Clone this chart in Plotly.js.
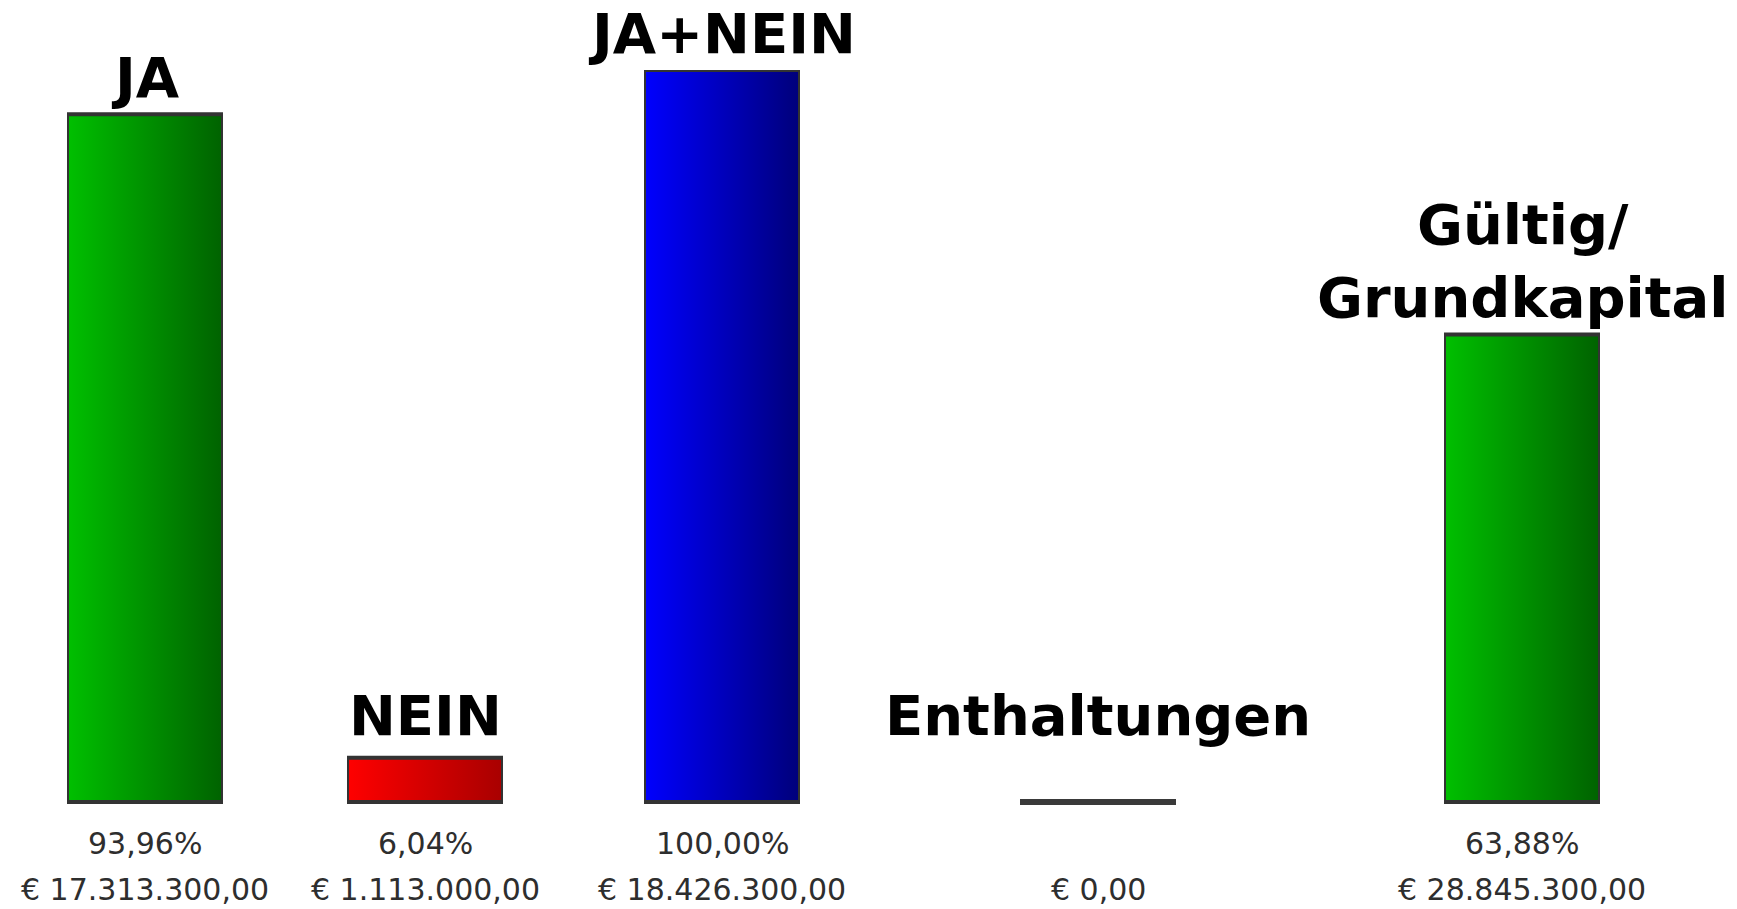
<!DOCTYPE html>
<html>
<head>
<meta charset="utf-8">
<script src="https://cdn.plot.ly/plotly-3.0.1.min.js"></script>
<style>
  html, body { margin: 0; padding: 0; background: #ffffff; }
  #chart { width: 1737px; height: 909px; }
</style>
</head>
<body>
<div id="chart"></div>
<script>
// ---- Data ----
const categories = ['JA', 'NEIN', 'JA+NEIN', 'Enthaltungen', 'Gültig/Grundkapital'];
const titleLabels = ['JA', 'NEIN', 'JA+NEIN', 'Enthaltungen', 'Gültig/<br>Grundkapital'];
const percentValues = [93.96, 6.04, 100.00, 0, 63.88];
const percentLabels = ['93,96%', '6,04%', '100,00%', '', '63,88%'];
const euroValues = [17313300, 1113000, 18426300, 0, 28845300];

// ---- Style / layout constants ----
const W = 1737, H = 909;
const columnCenters = [145, 425, 722, 1098, 1522];   // px, layout of the table columns
const barWidthPx = 156;
const labelFloor = 6.8;                               // minimum level for the title labels
const gradients = [
  ['#00c000', '#006200'],
  ['#ff0000', '#a80000'],
  ['#0000ff', '#00007a'],
  ['#555555', '#333333'],
  ['#00c000', '#006200']
];
const borderColor = '#333333';
const borderWidth = 4;

function formatEuro(v) {
  const parts = v.toFixed(2).split('.');
  const intPart = parts[0].replace(/\B(?=(\d{3})+(?!\d))/g, '.');
  return '€ ' + intPart + ',' + parts[1];
}
const euroLabels = euroValues.map(formatEuro);

const axisIds = categories.map((c, i) => i === 0 ? 'x' : 'x' + (i + 1));

const traces = categories.map((c, i) => ({
  type: 'bar',
  x: [c],
  y: [percentValues[i]],
  xaxis: axisIds[i],
  yaxis: 'y',
  marker: { color: gradients[i][0], line: { color: borderColor, width: borderWidth } },
  cliponaxis: false,
  hoverinfo: 'skip',
  showlegend: false
}));

const layout = {
  width: W,
  height: H,
  margin: { l: 0, r: 0, t: 70, b: 97, pad: 0 },
  paper_bgcolor: '#ffffff',
  plot_bgcolor: 'rgba(0,0,0,0)',
  bargap: 0,
  showlegend: false,
  yaxis: {
    range: [-1.367, 100],
    visible: false,
    showgrid: false,
    zeroline: false,
    fixedrange: true,
    anchor: 'x'
  },
  annotations: [],
  shapes: []
};

categories.forEach((c, i) => {
  const key = i === 0 ? 'xaxis' : 'xaxis' + (i + 1);
  const half = barWidthPx / 2;
  layout[key] = {
    domain: [(columnCenters[i] - half) / W, (columnCenters[i] + half) / W],
    anchor: 'y',
    type: 'category',
    range: [-0.5, 0.5],
    visible: false,
    showgrid: false,
    zeroline: false,
    fixedrange: true
  };

  // title label above the bar
  layout.annotations.push({
    x: c, xref: axisIds[i],
    y: Math.max(percentValues[i], labelFloor), yref: 'y',
    yanchor: 'bottom', xanchor: 'center',
    yshift: 2,
    text: '<b>' + titleLabels[i] + '</b>',
    showarrow: false,
    font: { family: 'DejaVu Sans, Verdana, sans-serif', size: 56, color: '#000000' }
  });

  // percent label
  if (percentLabels[i]) {
    layout.annotations.push({
      x: c, xref: axisIds[i],
      y: 0, yref: 'y',
      yanchor: 'middle', xanchor: 'center',
      yshift: -42,
      text: percentLabels[i],
      showarrow: false,
      font: { family: 'DejaVu Sans, Verdana, sans-serif', size: 30, color: '#2e2e2e' }
    });
  }

  // euro label
  layout.annotations.push({
    x: c, xref: axisIds[i],
    y: 0, yref: 'y',
    yanchor: 'middle', xanchor: 'center',
    yshift: -88,
    text: euroLabels[i],
    showarrow: false,
    font: { family: 'DejaVu Sans, Verdana, sans-serif', size: 30, color: '#2e2e2e' }
  });

  // zero-height bars are drawn as a flat dark bar outline
  if (percentValues[i] === 0) {
    layout.shapes.push({
      type: 'line',
      xref: axisIds[i] + ' domain', x0: 0, x1: 1,
      yref: 'y', y0: percentValues[i], y1: percentValues[i],
      line: { color: '#3a3a3a', width: 6 },
      layer: 'above'
    });
  }
});

Plotly.newPlot('chart', traces, layout, { staticPlot: true, displayModeBar: false }).then(function (gd) {
  const svg = gd.querySelector('svg.main-svg');
  const NS = 'http://www.w3.org/2000/svg';
  let defs = svg.querySelector('defs');
  if (!defs) { defs = document.createElementNS(NS, 'defs'); svg.insertBefore(defs, svg.firstChild); }
  gradients.forEach((g, i) => {
    const lg = document.createElementNS(NS, 'linearGradient');
    lg.setAttribute('id', 'barGrad' + i);
    lg.setAttribute('x1', '0'); lg.setAttribute('y1', '0');
    lg.setAttribute('x2', '1'); lg.setAttribute('y2', '0');
    const s1 = document.createElementNS(NS, 'stop');
    s1.setAttribute('offset', '0'); s1.setAttribute('stop-color', g[0]);
    const s2 = document.createElementNS(NS, 'stop');
    s2.setAttribute('offset', '1'); s2.setAttribute('stop-color', g[1]);
    lg.appendChild(s1); lg.appendChild(s2);
    defs.appendChild(lg);
  });
  const traceGroups = gd.querySelectorAll('.barlayer .trace');
  traceGroups.forEach((tg, i) => {
    tg.querySelectorAll('.point path').forEach(p => {
      p.style.fill = 'url(#barGrad' + i + ')';
      p.style.strokeWidth = borderWidth + 'px';
      p.style.stroke = borderColor;
    });
  });
});
</script>
</body>
</html>
